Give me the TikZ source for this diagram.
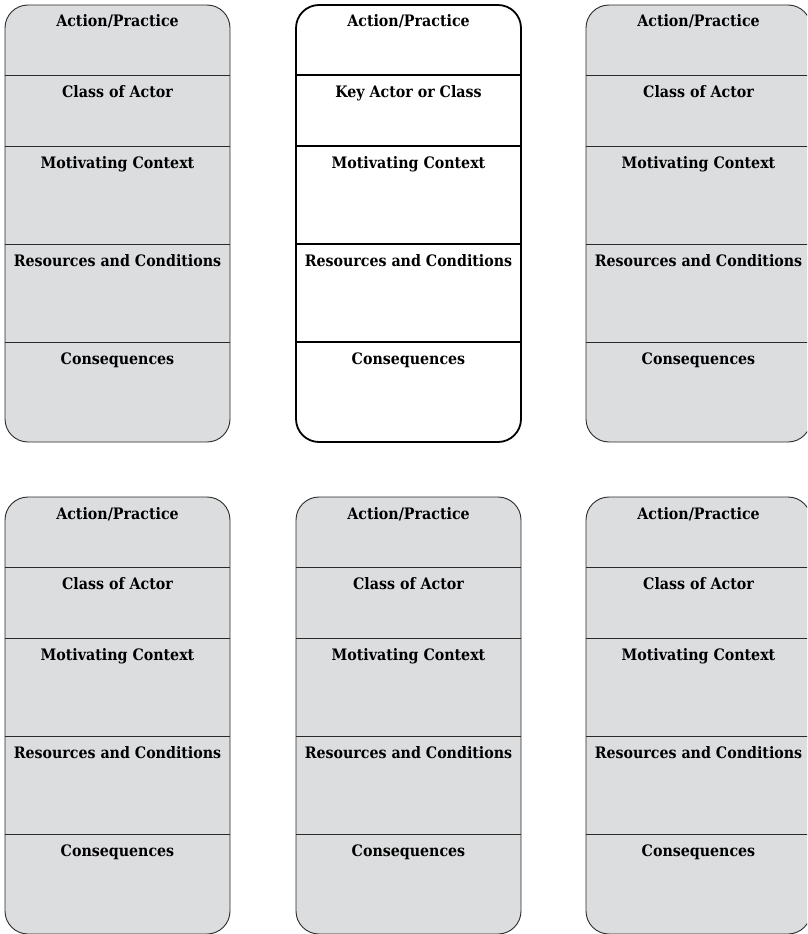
\documentclass[tikz,border=0pt]{standalone}
\usepackage{fontspec}
\setmainfont{DejaVu Serif Condensed}
\begin{document}
\begin{tikzpicture}[x=1pt,y=-1pt,
  cardgray/.style={fill=cardfill,draw=cardline,line width=0.9pt,rounded corners=23pt},
  cardwhite/.style={fill=white,draw=black,line width=1.8pt,rounded corners=23pt},
  divgray/.style={draw=cardline,line width=0.9pt},
  divwhite/.style={draw=black,line width=1.8pt},
  lbl/.style={anchor=base,font=\bfseries\fontsize{15.8}{18}\selectfont,inner sep=0pt}]
\definecolor{cardfill}{HTML}{DCDDDF}
\definecolor{cardline}{HTML}{2A2A2A}
\useasboundingbox (0,0) rectangle (807,934);
\clip (0,0) rectangle (807,934);
% one card: column x, row y, style suffix, second heading, name
\newcommand\drawcard[5]{%
  \begin{scope}[shift={(#1,#2)}]
    \draw[card#3] (0,0) rectangle (225,437);
    \foreach \d in {70,141,239,337}{\draw[div#3] (0,\d) -- (225,\d);}
    \node[lbl] (#5-a) at (112.5,22) {Action/Practice};
    \node[lbl] (#5-b) at (112.5,92) {#4};
    \node[lbl] (#5-c) at (112.5,163) {Motivating Context};
    \node[lbl] (#5-d) at (112.5,261) {Resources and Conditions};
    \node[lbl] (#5-e) at (112.5,359) {Consequences};
  \end{scope}}
\drawcard{5}{5}{gray}{Class of Actor}{c11}
\drawcard{296}{5}{white}{Key Actor or Class}{c12}
\drawcard{586}{5}{gray}{Class of Actor}{c13}
\drawcard{5}{497}{gray}{Class of Actor}{c21}
\drawcard{296}{497}{gray}{Class of Actor}{c22}
\drawcard{586}{497}{gray}{Class of Actor}{c23}
\end{tikzpicture}
\end{document}
